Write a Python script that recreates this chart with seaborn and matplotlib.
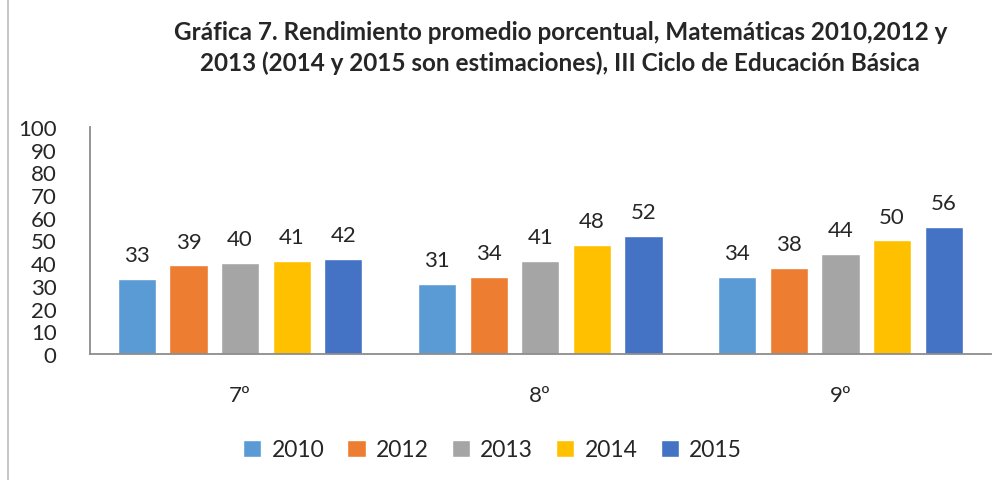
import pandas as pd
import seaborn as sns
import matplotlib.pyplot as plt
from matplotlib.patches import Rectangle

grados = ['7º', '8º', '9º']
anios = ['2010', '2012', '2013', '2014', '2015']
v2010 = [33, 31, 34]
v2012 = [39, 34, 38]
v2013 = [40, 41, 44]
v2014 = [41, 48, 50]
v2015 = [42, 52, 56]
colores = ['#5B9BD5', '#ED7D31', '#A5A5A5', '#FFC000', '#4472C4']

valores = [v2010, v2012, v2013, v2014, v2015]
df = pd.DataFrame({
    'Grado': grados * len(anios),
    'Año': [a for a in anios for _ in grados],
    'Rendimiento': [v for serie in valores for v in serie],
})

sns.set_style('white')
plt.rcParams['font.family'] = ['Lato', 'DejaVu Sans']

fig = plt.figure(figsize=(10.04, 4.81), dpi=100)
ax = fig.add_axes([0.0896, 0.262, 0.897, 0.472])

sns.barplot(data=df, x='Grado', y='Rendimiento', hue='Año', hue_order=anios,
            palette=colores, width=0.86, gap=0.26, saturation=1, ax=ax)

for cont in ax.containers:
    ax.bar_label(cont, fmt='%d', padding=10, fontsize=16)

ax.set_ylim(0, 100)
ax.set_yticks(range(0, 101, 10))
ax.set_xlabel('')
ax.set_ylabel('')
ax.tick_params(axis='y', labelsize=16, pad=24, length=0)
ax.tick_params(axis='x', labelsize=16, pad=22, length=0)
for s in ['top', 'right']:
    ax.spines[s].set_visible(False)
for s in ['left', 'bottom']:
    ax.spines[s].set_color('#8c8c8c')
    ax.spines[s].set_linewidth(1.3)

ax.legend(loc='lower center', bbox_to_anchor=(0.447, -0.56), ncol=5, frameon=False,
          fontsize=16.5, handlelength=0.8, handleheight=0.8, handletextpad=0.45,
          columnspacing=1.0)

fig.text(0.558, 0.9,
         'Gráfica 7. Rendimiento promedio porcentual, Matemáticas 2010,2012 y\n'
         '2013 (2014 y 2015 son estimaciones), III Ciclo de Educación Básica',
         ha='center', va='center', fontsize=17.5, fontweight='bold', linespacing=1.35)

fig.patches.append(Rectangle((0.008, -0.01), 1.0, 1.02, transform=fig.transFigure,
                             fill=False, edgecolor='#bfbfbf', linewidth=1.2))

fig.savefig('out.png', dpi=100)
